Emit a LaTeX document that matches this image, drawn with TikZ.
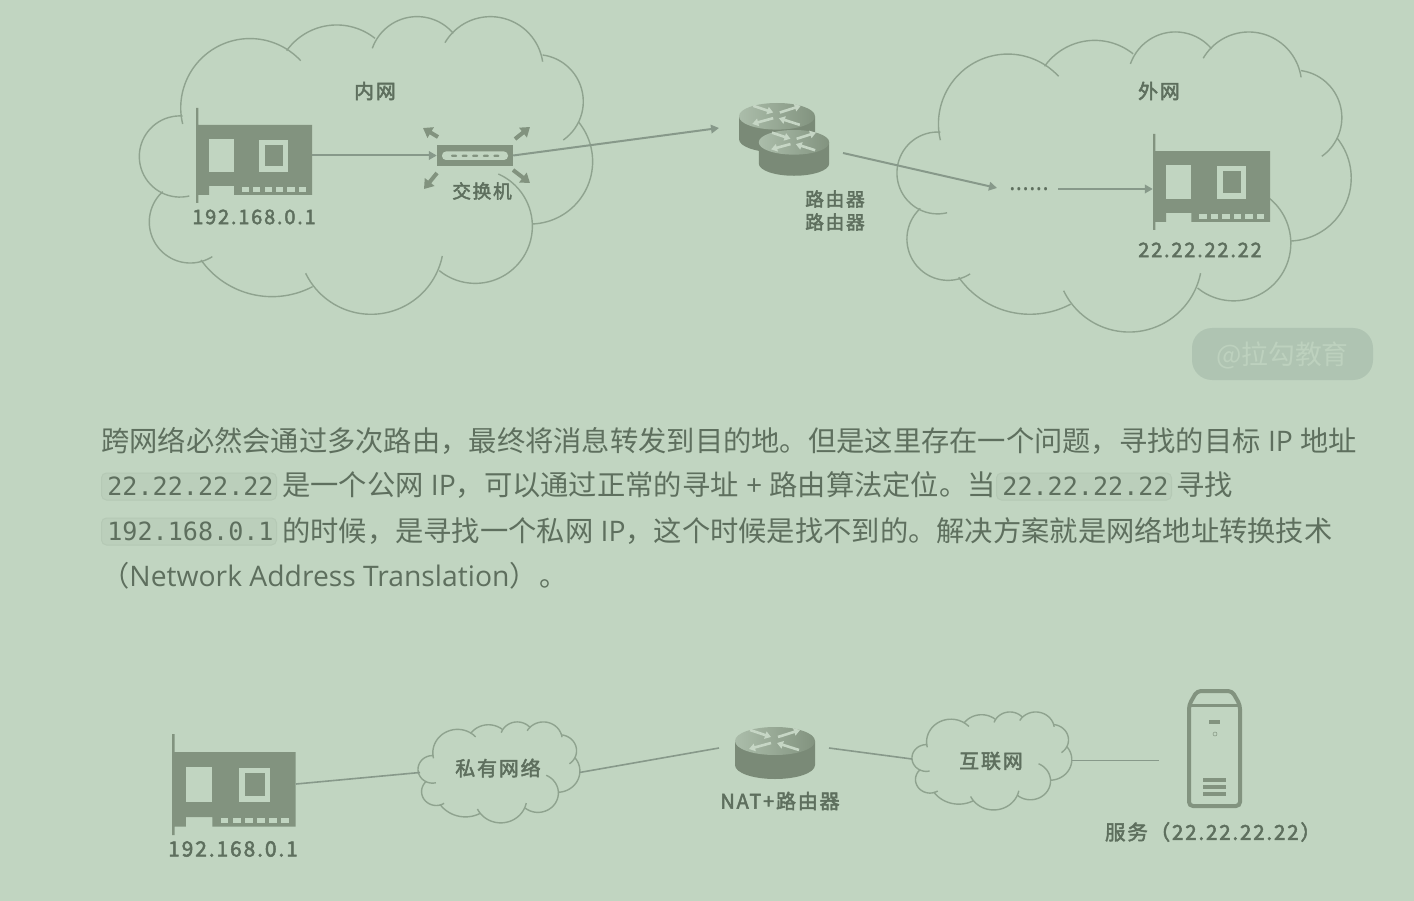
\documentclass[tikz,border=0pt]{standalone}
\usepackage{fontspec}
\usetikzlibrary{arrows.meta}
\setmainfont{Open Sans}
\newfontfamily\cjk{Noto Sans CJK SC}
\newfontfamily\lat{Open Sans}
\newfontfamily\codefont{DejaVu Sans Mono}
\newfontfamily\lab[LetterSpace=9,FakeBold=2.4]{Noto Sans CJK SC}
\definecolor{bgc}{HTML}{C1D5C1}
\definecolor{iconc}{HTML}{82937F}
\definecolor{linec}{HTML}{87998A}
\definecolor{cloudc}{HTML}{8FA38F}
\definecolor{txtc}{HTML}{5E6F5E}
\definecolor{codebg}{HTML}{BBCFBB}
\definecolor{codeln}{HTML}{B5C9B5}
\definecolor{wmbg}{HTML}{AFC4B2}
\definecolor{wmtx}{HTML}{BDD1BE}
\definecolor{rtop}{HTML}{ABBDAA}
\definecolor{rarrow}{HTML}{C6D6C5}
\tikzset{
 x=1pt,y=-1pt,
 cloudline/.style={draw=cloudc,line width=1.4pt},
 conn/.style={draw=linec,line width=2pt},
 thinconn/.style={draw=linec,line width=1.6pt},
 connarrow/.style={conn,-{Triangle[length=8pt,width=8.5pt]}},
 bodyline/.style={anchor=base west,inner sep=0,text=txtc,font=\fontsize{28.28}{34}\cjk},
 codebox/.style={anchor=west,fill=codebg,draw=codeln,line width=1pt,rounded corners=5pt,minimum width=175pt,minimum height=27pt,inner sep=0,text=txtc,font=\fontsize{25.1}{30}\codefont},
 netlabel/.style={inner sep=0,text=txtc,font=\fontsize{20}{24}\lab},
 smalllabel/.style={inner sep=0,text=txtc,font=\fontsize{18.7}{24}\lab},
 thickarrow/.style={draw=iconc,line width=4pt,-{Triangle[length=9pt,width=12pt]}},
 routerarrow/.style={draw=rarrow,line width=2.6pt,-{Triangle[length=6pt,width=7.5pt]}}
}
% one lobe of a cloud: the circular arc from (#1,#2) through (#3,#4) to (#5,#6)
\newcommand{\lobearc}[6]{%
 \pgfmathsetmacro\lu{(#3-#1)/100}\pgfmathsetmacro\lv{(#4-#2)/100}%
 \pgfmathsetmacro\lp{(#5-#1)/100}\pgfmathsetmacro\lq{(#6-#2)/100}%
 \pgfmathsetmacro\ld{2*(\lu*\lq-\lv*\lp)}%
 \pgfmathsetmacro\lsa{\lu*\lu+\lv*\lv}\pgfmathsetmacro\lsb{\lp*\lp+\lq*\lq}%
 \pgfmathsetmacro\lcx{(\lq*\lsa-\lv*\lsb)/\ld}\pgfmathsetmacro\lcy{(\lu*\lsb-\lp*\lsa)/\ld}%
 \pgfmathsetmacro\lr{100*sqrt(\lcx*\lcx+\lcy*\lcy)}%
 \pgfmathsetmacro\lca{atan2(-\lcy,-\lcx)}%
 \pgfmathsetmacro\lcm{atan2(\lv-\lcy,\lu-\lcx)}%
 \pgfmathsetmacro\lcb{atan2(\lq-\lcy,\lp-\lcx)}%
 \pgfmathsetmacro\lda{Mod(\lcm-\lca,360)}\pgfmathsetmacro\ldb{Mod(\lcb-\lca,360)}%
 \pgfmathsetmacro\lsw{\lda<\ldb?\ldb:\ldb-360}%
 \pgfmathsetmacro\lox{#1+100*\lcx}\pgfmathsetmacro\loy{#2+100*\lcy}%
 \draw[cloudline] plot[domain=0:\lsw,samples=40,smooth] ({\lox+\lr*cos(\lca+\x)},{\loy+\lr*sin(\lca+\x)});%
}
\newcommand{\cloudpath}{%
 \lobearc{158}{372}{205}{185}{512}{182}
 \lobearc{470}{152}{615}{75}{735}{115}
 \lobearc{727}{145}{855}{50}{970}{100}
 \lobearc{945}{128}{1085}{50}{1238}{185}
 \lobearc{1238}{165}{1360}{305}{1300}{420}
 \lobearc{1345}{365}{1388}{490}{1208}{672}
 \lobearc{1105}{522}{1207}{670}{928}{812}
 \lobearc{937}{768}{725}{943}{527}{820}
 \lobearc{548}{860}{420}{890}{213}{780}
 \lobearc{247}{770}{58}{660}{98}{575}
 \lobearc{178}{588}{28}{465}{158}{348}
}
\newcommand{\cloudat}[4]{\begin{scope}[shift={(#1,#2)},xscale=#3,yscale=#4]\cloudpath\end{scope}}
\newcommand{\nicat}[3]{\begin{scope}[shift={(#1,#2)},scale=#3]
 \fill[iconc] (0,0)--(2.4,0)--(2.4,17)--(116,17)--(116,87)--(38,87)--(38,78)--(13,78)--(13,87)--(2.4,87)--(2.4,95)--(0,95)--cycle;
 \fill[bgc] (13,31) rectangle (38,64);
 \fill[bgc] (63,32) rectangle (92,64);
 \fill[iconc] (69,37) rectangle (87,58);
 \foreach \i in {0,...,5} {\fill[bgc] ({45.7+11.4*\i},79) rectangle ({53+11.4*\i},84);}
\end{scope}}
\newcommand{\routerat}[3]{\begin{scope}[shift={(#1,#2)},scale=#3]
 \fill[iconc!94!black] (-40,14) -- (-40,38) .. controls (-40,46) and (-22,52) .. (0,52) .. controls (22,52) and (40,46) .. (40,38) -- (40,14) -- cycle;
 \shade[left color=rtop,right color=iconc] (-40,14) .. controls (-40,6) and (-22,0) .. (0,0) .. controls (22,0) and (40,6) .. (40,14) .. controls (40,22) and (22,28) .. (0,28) .. controls (-22,28) and (-40,22) .. (-40,14) -- cycle;
 \draw[routerarrow] (-25,3) -- (-4,10);
 \draw[routerarrow] (3,10) -- (25,3);
 \draw[routerarrow] (-4,16) -- (-26,22);
 \draw[routerarrow] (24,23) -- (2,16);
\end{scope}}
\begin{document}
\begin{tikzpicture}
\useasboundingbox (0,0) rectangle (1414,901);
\fill[bgc] (0,0) rectangle (1414,901);

% upper diagram
\cloudat{130}{0}{0.3333}{0.3333}
\cloudat{887.6}{15.2}{0.334}{0.336}
\nicat{196}{108}{1}
\node[inner sep=0,minimum width=116pt,minimum height=70pt] (nicA) at (254,160) {};
\node[netlabel] (lanlabel) at (375,91) {内网};
\node[netlabel] (ipA) at (254,217) {192.168.0.1};

\node[fill=iconc,inner sep=0,minimum width=76pt,minimum height=21pt] (swA) at (475,155.5) {};
\fill[bgc,rounded corners=4pt] (442,151.5) rectangle (508,160);
\foreach \i in {0,...,4} {\fill[iconc,rounded corners=1pt] ({451+10.6*\i},154.7) rectangle ({457+10.6*\i},157);}
\draw[thickarrow] (438,137) -- (423,128);
\draw[thickarrow] (515,139) -- (530,127);
\draw[thickarrow] (437,173) -- (424,189);
\draw[thickarrow] (513,170) -- (530,183);
\node[smalllabel] (swlabel) at (482,191) {交换机};

\draw[connarrow] (nicA.east |- swA.west) -- (swA.west);
\coordinate (routerIn) at (719,128);
\draw[connarrow] (swA.east) -- (routerIn);

\routerat{777}{103}{0.95}
\routerat{794}{130}{0.88}
\node[inner sep=0,minimum width=90pt,minimum height=74pt] (rA) at (784,140) {};
\node[smalllabel] (rlabelA) at (835,199) {路由器};
\node[smalllabel] (rlabelB) at (835,222) {路由器};

\node[anchor=base,inner sep=0,text=txtc,font=\fontsize{25}{28}\lat] (dots) at (1029,191) {......};
\coordinate (routerOut) at (843,153);
\coordinate (dotsIn) at (997,188);
\draw[connarrow] (routerOut) -- (dotsIn);

\nicat{1153}{134}{1.01}
\node[inner sep=0,minimum width=117pt,minimum height=70pt] (nicB) at (1211.5,189) {};
\coordinate (dotsOut) at (1058,189);
\draw[connarrow] (dotsOut) -- (nicB.west);
\node[netlabel] (wanlabel) at (1159,91) {外网};
\node[netlabel] (ipB) at (1200,250) {22.22.22.22};

% watermark
\node[fill=wmbg,rounded corners=20pt,minimum width=181pt,minimum height=52pt,inner sep=0,text=wmtx,font=\fontsize{26.8}{30}\cjk] (wm) at (1282.5,354) {\raisebox{-11pt}[0pt][0pt]{@拉勾教育}};

% paragraph
\node[bodyline] (lineA) at (101,451) {跨网络必然会通过多次路由，最终将消息转发到目的地。但是这里存在一个问题，寻找的目标{\lat\ IP\ }地址};
\node[codebox] (codeA) at (101,486.5) {\hspace*{3pt}22.22.22.22};
\node[bodyline] (lineB) at (282,495) {是一个公网{\lat\ IP}，可以通过正常的寻址{\lat\ +\ }路由算法定位。当};
\node[codebox] (codeB) at (996,486.5) {\hspace*{3pt}22.22.22.22};
\node[bodyline] (lineC) at (1176,495) {寻找};
\node[codebox] (codeC) at (101,531.5) {\hspace*{3pt}192.168.0.1};
\node[bodyline] (lineD) at (282,541.3) {的时候，是寻找一个私网{\lat\ IP}，这个时候是找不到的。解决方案就是网络地址转换技术};
\node[bodyline] (lineE) at (101,586.3) {（{\lat Network Address Translation}）\hspace{2pt}。};

% lower diagram
\nicat{172}{734}{1.065}
\node[inner sep=0,minimum width=124pt,minimum height=74pt] (nicC) at (234,790) {};
\node[netlabel,font=\fontsize{21}{24}\lab] (ipC) at (233,849) {192.168.0.1};
\cloudat{414.7}{716.3}{0.119}{0.113}
\node[netlabel] (privlabel) at (498,768) {私有网络};
\routerat{775}{727}{1}
\node[inner sep=0,minimum width=80pt,minimum height=52pt] (rC) at (775,753) {};
\node[netlabel] (natlabel) at (780,801) {NAT+路由器};
\cloudat{908.7}{706.5}{0.1175}{0.1097}
\node[netlabel] (netlabel) at (991,761) {互联网};

% server
\begin{scope}[iconc,line width=4pt]
 \draw[rounded corners=4pt] (1189,705) -- (1189,806) -- (1240,806) -- (1240,705) -- (1232,691) -- (1197,691) -- cycle;
 \draw[line width=3pt] (1189,705) -- (1240,705);
 \fill (1209,720) rectangle (1220,723.5);
 \fill (1203,778) rectangle (1226,782);
 \fill (1203,785) rectangle (1226,789);
 \fill (1203,792) rectangle (1226,796);
 \draw[line width=.5pt] (1215,734) circle (2pt);
\end{scope}
\node[inner sep=0,minimum width=55pt,minimum height=119pt] (srv) at (1214.5,748.5) {};
\node[netlabel,font=\fontsize{20.5}{24}\lab] (srvlabel) at (1213,832) {服务（22.22.22.22）};

% lower connectors
\coordinate (cA) at (420,772.5);
\coordinate (cB) at (579.5,772.5);
\coordinate (rIn) at (719,748);
\coordinate (rOut) at (829,748);
\coordinate (cC) at (912,759);
\coordinate (cD) at (1072,760.5);
\coordinate (srvIn) at (1159,760.5);
\coordinate (nicOut) at (296,784);
\draw[thinconn] (nicOut) -- (cA);
\draw[thinconn] (cB) -- (rIn);
\draw[thinconn] (rOut) -- (cC);
\draw[thinconn] (cD) -- (srvIn);
\end{tikzpicture}
\end{document}
